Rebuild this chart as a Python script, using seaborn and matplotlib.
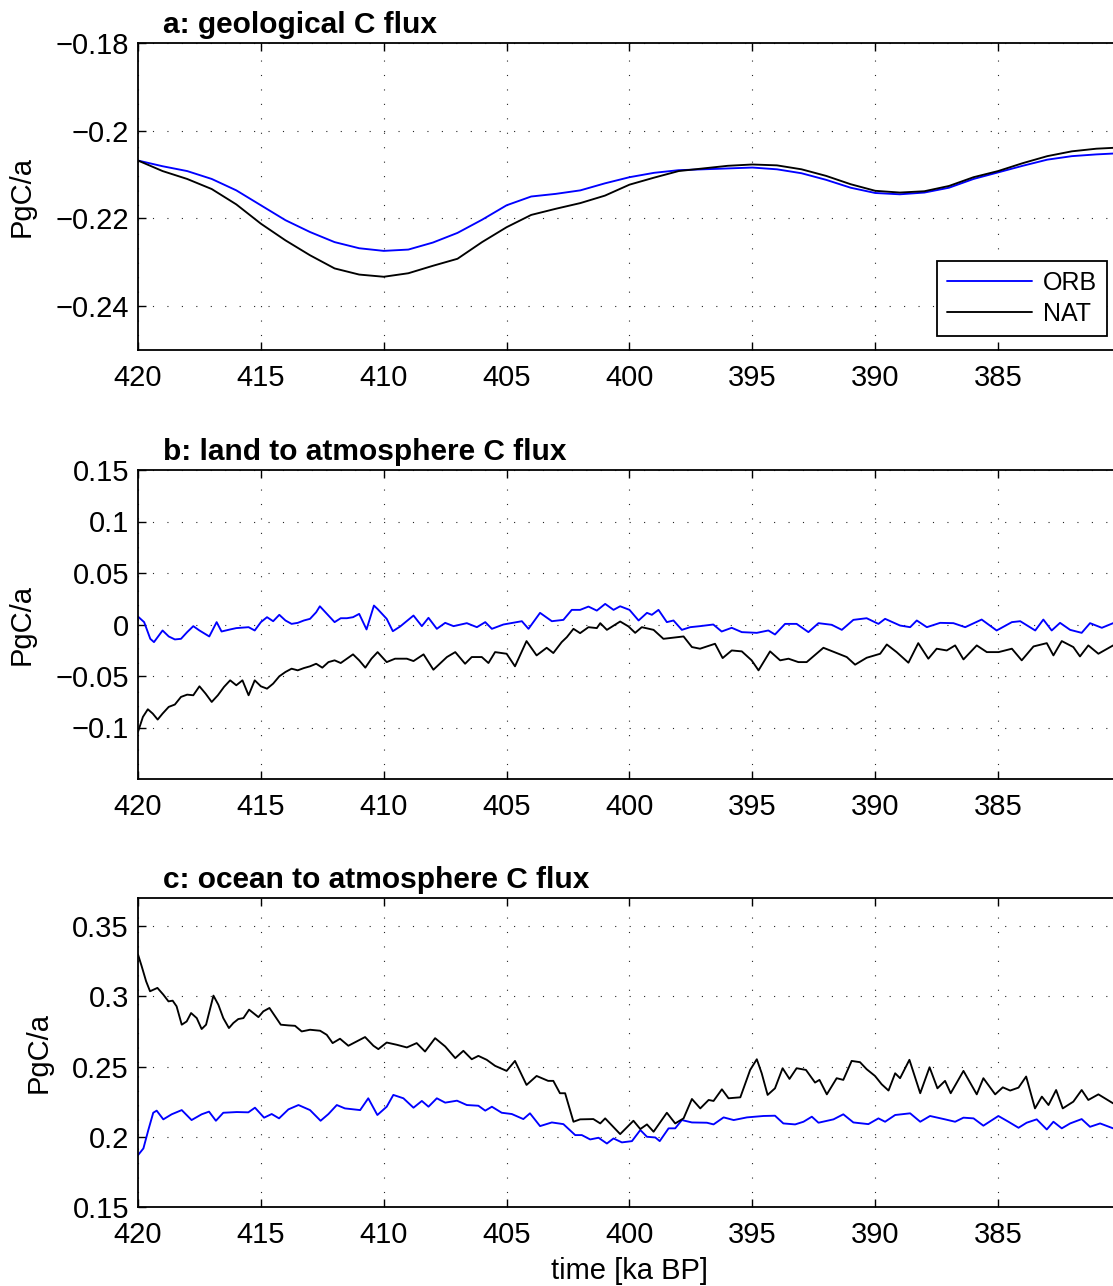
import numpy as np
import pandas as pd
import matplotlib
matplotlib.use("Agg")
import matplotlib.pyplot as plt
import seaborn as sns

# ---------------- data ----------------
a_time = [420, 419, 418, 417, 416, 415, 414, 413, 412, 411, 410, 409, 408, 407, 406, 405,
          404, 403, 402, 401, 400, 399, 398, 397, 396, 395, 394, 393, 392, 391, 390, 389,
          388, 387, 386, 385, 384, 383, 382, 381, 380.3]
a_orb = [-0.2068, -0.2081, -0.2092, -0.2110, -0.2136, -0.2170, -0.2204, -0.2231, -0.2254,
         -0.2268, -0.2274, -0.2271, -0.2255, -0.2233, -0.2203, -0.2170, -0.2150, -0.2144,
         -0.2136, -0.2120, -0.2106, -0.2096, -0.2090, -0.2088, -0.2086, -0.2084, -0.2088,
         -0.2097, -0.2112, -0.2130, -0.2142, -0.2145, -0.2141, -0.2130, -0.2110, -0.2095,
         -0.2080, -0.2066, -0.2058, -0.2054, -0.2052]
a_nat = [-0.2068, -0.2092, -0.2110, -0.2133, -0.2168, -0.2212, -0.2250, -0.2284, -0.2314,
         -0.2328, -0.2333, -0.2325, -0.2308, -0.2292, -0.2254, -0.2220, -0.2192, -0.2178,
         -0.2165, -0.2148, -0.2123, -0.2107, -0.2092, -0.2086, -0.2080, -0.2077, -0.2079,
         -0.2088, -0.2103, -0.2122, -0.2137, -0.2141, -0.2138, -0.2126, -0.2106, -0.2092,
         -0.2074, -0.2058, -0.2047, -0.2041, -0.2039]

b_orb_time = [420, 419.75, 419.5, 419.35, 419.0, 418.75, 418.5, 418.25, 418.0, 417.75, 417.5,
              417.1, 416.8, 416.6, 416.25, 416.0, 415.5, 415.25, 415.0, 414.75, 414.5, 414.25,
              414.0, 413.75, 413.5, 413.25, 413.0, 412.75, 412.6, 412.25, 412.0, 411.75, 411.5,
              411.25, 411.0, 410.7, 410.4, 410.25, 409.88, 409.63, 409.33, 408.79, 408.45,
              408.18, 407.84, 407.5, 407.16, 406.62, 406.21, 405.87, 405.6, 405.13, 404.38,
              404.11, 403.64, 403.16, 402.69, 402.35, 402.01, 401.67, 401.33, 400.99, 400.65,
              400.38, 400.0, 399.63, 399.29, 399.09, 398.82, 398.48, 398.21, 397.87, 397.53,
              397.13, 396.59, 396.25, 395.84, 395.43, 394.82, 394.35, 394.08, 393.67, 393.2,
              392.72, 392.31, 391.77, 391.36, 390.89, 390.35, 389.87, 389.6, 388.99, 388.58,
              388.31, 387.9, 387.36, 386.82, 386.34, 385.67, 385.06, 384.44, 384.1, 383.49,
              383.16, 382.82, 382.48, 382.07, 381.6, 381.26, 380.78, 380.32]
b_orb = [0.0077, 0.0023, -0.0139, -0.0171, -0.0058, -0.0116, -0.0145, -0.0139, -0.0074, -0.0016,
         -0.0058, -0.0116, 0.0023, -0.0068, -0.0048, -0.0035, -0.0026, -0.0058, 0.0023, 0.0071,
         0.0032, 0.0094, 0.0039, 0.0006, 0.0016, 0.0039, 0.0055, 0.0119, 0.0177, 0.0087,
         0.0023, 0.0061, 0.0061, 0.0071, 0.0103, -0.0048, 0.0184, 0.0150, 0.0055, -0.0065,
         -0.0019, 0.0087, -0.0016, 0.0065, -0.0042, 0.0016, -0.0016, 0.0013, -0.0026, 0.0023,
         -0.0042, 0.0000, 0.0032, -0.0042, 0.0113, 0.0032, 0.0045, 0.0142, 0.0142, 0.0174,
         0.0135, 0.0200, 0.0142, 0.0177, 0.0142, 0.0039, 0.0113, 0.0094, 0.0142, 0.0023,
         0.0039, -0.0052, -0.0026, -0.0016, 0.0000, -0.0068, -0.0032, -0.0074, -0.0081,
         -0.0058, -0.0097, 0.0006, 0.0006, -0.0074, 0.0013, -0.0003, -0.0052, 0.0045, 0.0061,
         0.0006, 0.0055, -0.0010, -0.0026, 0.0039, -0.0026, 0.0016, 0.0013, -0.0026, 0.0048,
         -0.0058, 0.0023, 0.0032, -0.0058, 0.0048, -0.0058, 0.0016, -0.0052, -0.0081, 0.0013,
         -0.0032, 0.0013]

b_nat_time = [420, 419.8, 419.6, 419.4, 419.2, 419.0, 418.75, 418.5, 418.25, 418.0, 417.75,
              417.5, 417.25, 417.0, 416.75, 416.5, 416.25, 416.0, 415.75, 415.5, 415.25, 415.0,
              414.75, 414.5, 414.25, 414.0, 413.75, 413.5, 413.25, 413.0, 412.75, 412.5, 412.25,
              412.0, 411.75, 411.5, 411.25, 411.0, 410.75, 410.5, 410.25, 409.88, 409.54,
              409.06, 408.79, 408.38, 407.98, 407.43, 407.09, 406.69, 406.42, 406.01, 405.74,
              405.47, 405.0, 404.66, 404.19, 403.78, 403.37, 403.1, 402.76, 402.55, 402.28,
              402.01, 401.67, 401.33, 401.19, 400.92, 400.38, 400.04, 399.77, 399.5, 399.02,
              398.62, 397.8, 397.46, 397.13, 396.52, 396.21, 395.84, 395.43, 395.03, 394.75,
              394.28, 393.87, 393.53, 393.13, 392.79, 392.11, 391.57, 391.16, 390.82, 390.35,
              389.8, 389.53, 389.13, 388.65, 388.25, 387.84, 387.5, 387.09, 386.75, 386.41,
              385.87, 385.46, 384.98, 384.44, 384.04, 383.56, 383.02, 382.75, 382.41, 381.94,
              381.67, 381.33, 380.92, 380.32]
b_nat = [-0.1042, -0.0897, -0.0823, -0.0865, -0.0923, -0.0865, -0.0800, -0.0777, -0.0703,
         -0.0681, -0.0687, -0.0600, -0.0671, -0.0752, -0.0687, -0.0606, -0.0542, -0.0590,
         -0.0542, -0.0687, -0.0542, -0.0600, -0.0623, -0.0574, -0.0503, -0.0461, -0.0429,
         -0.0445, -0.0423, -0.0406, -0.0381, -0.0419, -0.0365, -0.0348, -0.0374, -0.0332,
         -0.0290, -0.0348, -0.0419, -0.0332, -0.0268, -0.0365, -0.0332, -0.0332, -0.0355,
         -0.0290, -0.0439, -0.0316, -0.0268, -0.0381, -0.0316, -0.0316, -0.0374, -0.0268,
         -0.0284, -0.0406, -0.0161, -0.0300, -0.0226, -0.0277, -0.0171, -0.0123, -0.0042,
         -0.0084, -0.0026, -0.0035, 0.0013, -0.0052, 0.0029, -0.0019, -0.0081, -0.0026,
         -0.0052, -0.0139, -0.0116, -0.0219, -0.0235, -0.0187, -0.0326, -0.0252, -0.0261,
         -0.0348, -0.0445, -0.0261, -0.0348, -0.0332, -0.0365, -0.0365, -0.0226, -0.0277,
         -0.0316, -0.0390, -0.0323, -0.0284, -0.0194, -0.0268, -0.0371, -0.0181, -0.0332,
         -0.0235, -0.0252, -0.0203, -0.0339, -0.0203, -0.0268, -0.0268, -0.0235, -0.0348,
         -0.0213, -0.0181, -0.0300, -0.0161, -0.0219, -0.0310, -0.0203, -0.0284, -0.0203]

c_orb_time = [420, 419.78, 419.58, 419.38, 419.24, 418.97, 418.63, 418.22, 417.82, 417.41,
              417.11, 416.83, 416.53, 415.98, 415.51, 415.24, 414.87, 414.56, 414.26, 413.88,
              413.47, 413.0, 412.57, 412.25, 411.91, 411.58, 410.96, 410.63, 410.26, 409.88,
              409.61, 409.2, 408.79, 408.45, 408.18, 407.84, 407.5, 407.02, 406.62, 406.15,
              405.87, 405.6, 405.2, 404.79, 404.32, 404.05, 403.64, 403.16, 402.69, 402.21,
              401.94, 401.6, 401.26, 400.92, 400.65, 400.31, 399.9, 399.56, 399.29, 398.95,
              398.77, 398.41, 398.14, 397.87, 397.46, 396.85, 396.58, 396.17, 395.76, 395.22,
              394.55, 394.08, 393.74, 393.26, 392.92, 392.58, 392.31, 391.7, 391.3, 390.89,
              390.28, 389.87, 389.6, 389.19, 388.58, 388.17, 387.77, 387.16, 386.75, 386.41,
              386.0, 385.6, 384.99, 384.58, 384.17, 383.84, 383.43, 383.02, 382.75, 382.41,
              382.07, 381.6, 381.26, 380.85, 380.32]
c_orb = [0.1869, 0.1917, 0.2048, 0.2171, 0.2186, 0.2124, 0.2160, 0.2190, 0.2119, 0.2160,
         0.2179, 0.2114, 0.2171, 0.2176, 0.2174, 0.2207, 0.2136, 0.2162, 0.2131, 0.2195,
         0.2226, 0.2190, 0.2114, 0.2162, 0.2226, 0.2202, 0.2190, 0.2274, 0.2155, 0.2214,
         0.2298, 0.2274, 0.2207, 0.2255, 0.2214, 0.2274, 0.2243, 0.2257, 0.2226, 0.2221,
         0.2186, 0.2214, 0.2171, 0.2162, 0.2126, 0.2167, 0.2076, 0.2102, 0.2090, 0.2012,
         0.2012, 0.1981, 0.1993, 0.1952, 0.1988, 0.1960, 0.1969, 0.2048, 0.2000, 0.1995,
         0.1969, 0.2060, 0.2060, 0.2119, 0.2102, 0.2100, 0.2088, 0.2138, 0.2119, 0.2138,
         0.2148, 0.2150, 0.2095, 0.2088, 0.2107, 0.2143, 0.2100, 0.2124, 0.2160, 0.2102,
         0.2090, 0.2131, 0.2107, 0.2155, 0.2167, 0.2107, 0.2148, 0.2124, 0.2107, 0.2136,
         0.2131, 0.2079, 0.2148, 0.2107, 0.2064, 0.2100, 0.2124, 0.2052, 0.2107, 0.2060,
         0.2095, 0.2126, 0.2071, 0.2095, 0.2060]

c_nat_time = [420, 419.85, 419.67, 419.51, 419.21, 418.97, 418.76, 418.59, 418.43, 418.22,
              418.02, 417.84, 417.61, 417.41, 417.23, 416.93, 416.73, 416.53, 416.30, 416.12,
              415.92, 415.71, 415.48, 415.31, 415.10, 414.9, 414.65, 414.42, 414.19, 413.88,
              413.61, 413.34, 413.0, 412.59, 412.32, 412.08, 411.78, 411.44, 411.1, 410.76,
              410.42, 410.22, 409.88, 409.47, 409.06, 408.66, 408.32, 407.91, 407.5, 407.09,
              406.76, 406.42, 406.15, 405.81, 405.47, 405.0, 404.66, 404.19, 403.78, 403.31,
              403.1, 402.83, 402.62, 402.28, 402.01, 401.47, 401.19, 400.99, 400.38, 399.84,
              399.56, 399.29, 399.02, 398.48, 398.14, 397.8, 397.46, 397.12, 396.78, 396.58,
              396.24, 395.97, 395.49, 395.09, 394.82, 394.62, 394.38, 394.08, 393.77, 393.49,
              393.2, 392.82, 392.45, 392.27, 391.97, 391.57, 391.3, 390.96, 390.62, 390.35,
              390.01, 389.74, 389.46, 389.19, 388.99, 388.61, 388.17, 387.79, 387.47, 387.16,
              386.93, 386.41, 385.87, 385.6, 385.12, 384.81, 384.51, 384.17, 383.86, 383.5,
              383.22, 382.95, 382.64, 382.37, 381.94, 381.6, 381.33, 380.92, 380.32]
c_nat = [0.3298, 0.3214, 0.3107, 0.3036, 0.3060, 0.3012, 0.2964, 0.2969, 0.2929, 0.2798,
         0.2821, 0.2881, 0.2845, 0.2767, 0.2798, 0.3005, 0.2940, 0.2845, 0.2774, 0.2810,
         0.2838, 0.2845, 0.2905, 0.2881, 0.2852, 0.2893, 0.2917, 0.2857, 0.2798, 0.2793,
         0.2790, 0.2750, 0.2762, 0.2755, 0.2726, 0.2667, 0.2698, 0.2648, 0.2679, 0.2710,
         0.2648, 0.2624, 0.2671, 0.2655, 0.2636, 0.2667, 0.2607, 0.2702, 0.2643, 0.2560,
         0.2612, 0.2552, 0.2576, 0.2548, 0.2505, 0.2469, 0.2540, 0.2369, 0.2433, 0.2398,
         0.2398, 0.2310, 0.2310, 0.2107, 0.2124, 0.2126, 0.2095, 0.2131, 0.2019, 0.2114,
         0.2055, 0.2088, 0.2036, 0.2171, 0.2095, 0.2131, 0.2269, 0.2202, 0.2262, 0.2255,
         0.2338, 0.2274, 0.2281, 0.2476, 0.2552, 0.2452, 0.2298, 0.2345, 0.2488, 0.2412,
         0.2488, 0.2476, 0.2386, 0.2405, 0.2302, 0.2417, 0.2405, 0.2540, 0.2531, 0.2481,
         0.2433, 0.2374, 0.2329, 0.2452, 0.2417, 0.2548, 0.2310, 0.2495, 0.2345, 0.2398,
         0.2310, 0.2469, 0.2302, 0.2417, 0.2302, 0.2352, 0.2329, 0.2350, 0.2429, 0.2202,
         0.2286, 0.2226, 0.2333, 0.2202, 0.2250, 0.2333, 0.2262, 0.2302, 0.2238]

x_ticks = [420, 415, 410, 405, 400, 395, 390, 385]
a_yticks = [-0.24, -0.22, -0.2, -0.18]
b_yticks = [-0.1, -0.05, 0, 0.05, 0.1, 0.15]
c_yticks = [0.15, 0.2, 0.25, 0.3, 0.35]
titles = ["a: geological C flux", "b: land to atmosphere C flux", "c: ocean to atmosphere C flux"]
series_names = ["ORB", "NAT"]

# ---------------- styling ----------------
sns.set_theme(style="ticks")
plt.rcParams["font.family"] = ["Liberation Sans", "DejaVu Sans"]
plt.rcParams["axes.unicode_minus"] = True
plt.rcParams["text.color"] = "black"
plt.rcParams["axes.labelcolor"] = "black"
plt.rcParams["legend.labelcolor"] = "black"

W, H = 1113, 1286
fig = plt.figure(figsize=(W / 100, H / 100), dpi=100)
fig.patch.set_facecolor("white")


def add_ax(top_px, bot_px):
    return fig.add_axes([138 / W, (H - bot_px) / H, 983 / W, (bot_px - top_px) / H])


def fmt(v):
    return ("%g" % v).replace("-", "\u2212")


BLUE = "#0000ff"
BLACK = "#000000"
LW = 1.35

panels = [
    (add_ax(43, 350), a_time, a_orb, a_time, a_nat, a_yticks, (-0.25, -0.18), -0.1038),
    (add_ax(470, 779), b_orb_time, b_orb, b_nat_time, b_nat, b_yticks, (-0.15, 0.15), -0.1038),
    (add_ax(898, 1207), c_orb_time, c_orb, c_nat_time, c_nat, c_yticks, (0.15, 0.37), -0.0865),
]

for i, (ax, t1, v1, t2, v2, yt, ylim, ylab_x) in enumerate(panels):
    ax.set_facecolor("white")
    sns.lineplot(x=t1, y=v1, ax=ax, color=BLUE, lw=LW, estimator=None, sort=False,
                 label=series_names[0] if i == 0 else None, legend=(i == 0))
    sns.lineplot(x=t2, y=v2, ax=ax, color=BLACK, lw=LW, estimator=None, sort=False,
                 label=series_names[1] if i == 0 else None, legend=(i == 0))
    ax.set_xlim(420, 380)
    ax.set_ylim(*ylim)
    ax.set_xticks(x_ticks)
    ax.set_xticklabels([str(x) for x in x_ticks])
    ax.set_yticks(yt)
    ax.set_yticklabels([fmt(v) for v in yt])
    ax.tick_params(axis="both", which="major", direction="in", top=True, right=True,
                   length=6, width=1.0, colors="black", labelsize=21)
    ax.tick_params(axis="x", pad=10)
    ax.tick_params(axis="y", pad=6.5)
    ax.grid(True, color="black", linestyle=(0, (1, 12)), linewidth=0.8, alpha=0.85)
    for s in ax.spines.values():
        s.set_visible(True)
        s.set_linewidth(1.3)
        s.set_color("black")
    ax.set_ylabel("PgC/a", fontsize=21, color="black")
    ax.yaxis.set_label_coords(ylab_x, 0.5)
    ax.set_xlabel("")
    ax.annotate(titles[i], xy=(0, 1), xycoords="axes fraction", xytext=(18, 7.5),
                textcoords="offset points", ha="left", va="baseline",
                fontsize=21.5, fontweight="bold", color="black")

ax_a, ax_b, ax_c = [p[0] for p in panels]
leg = ax_a.legend(loc="lower right", bbox_to_anchor=(0.9858, 0.0456), fontsize=18,
                  frameon=True, fancybox=False, edgecolor="black", framealpha=1,
                  handlelength=3.4, handletextpad=0.45, labelspacing=0.3,
                  borderpad=0.4, borderaxespad=0)
leg.get_frame().set_linewidth(1.3)
for line in leg.get_lines():
    line.set_linewidth(LW)
for txt in leg.get_texts():
    txt.set_color("black")

ax_c.set_xlabel("time [ka BP]", fontsize=21, color="black")
ax_c.xaxis.set_label_coords(0.5, -0.163)

fig.savefig("out.png", dpi=100, facecolor="white")
